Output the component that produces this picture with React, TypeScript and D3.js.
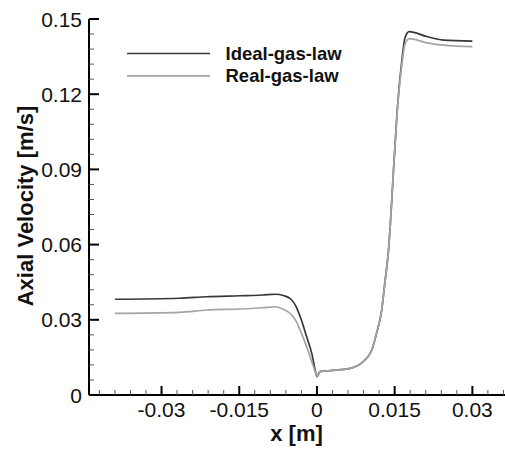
import React from "react";
import * as d3 from "d3";

// Axial position along the channel [m]
const xPositions = [
  -0.039, -0.0265, -0.0213, -0.0149, -0.0105, -0.008, -0.0065, -0.005, -0.004,
  -0.003, -0.002, -0.001, -0.0002, 0, 0.0006, 0.0025, 0.0064, 0.0089, 0.0106,
  0.0115, 0.0125, 0.0131, 0.0138, 0.0149, 0.0155, 0.0164, 0.017, 0.0178,
  0.0212, 0.0244, 0.03,
];

// Axial velocity [m/s], ideal-gas-law model
const idealGas = [
  0.0382, 0.0386, 0.0392, 0.0396, 0.0399, 0.0402, 0.0397, 0.0382, 0.0352,
  0.0299, 0.0233, 0.0166, 0.0087, 0.0073, 0.0093, 0.0097, 0.0106, 0.0133,
  0.018, 0.0246, 0.0339, 0.0446, 0.0575, 0.0937, 0.1137, 0.1336, 0.1425,
  0.145, 0.143, 0.1416, 0.1412,
];

// Axial velocity [m/s], real-gas-law model
const realGas = [
  0.0326, 0.033, 0.0339, 0.0343, 0.0348, 0.0352, 0.0342, 0.0322, 0.0294,
  0.0247, 0.0193, 0.0133, 0.0085, 0.0075, 0.0093, 0.0097, 0.0106, 0.0133,
  0.018, 0.0246, 0.0339, 0.0446, 0.0575, 0.0937, 0.113, 0.132, 0.14, 0.1422,
  0.1405, 0.1396, 0.139,
];

const xTickValues = [-0.03, -0.015, 0, 0.015, 0.03];
const xTickLabels = ["-0.03", "-0.015", "0", "0.015", "0.03"];
const yTickValues = [0, 0.03, 0.06, 0.09, 0.12, 0.15];
const yTickLabels = ["0", "0.03", "0.06", "0.09", "0.12", "0.15"];

const seriesNames = ["Ideal-gas-law", "Real-gas-law"];
const seriesColors = ["#383838", "#a4a4a4"];

const W = 505;
const H = 452;
const left = 89;
const right = 505;
const top = 19;
const bottom = 395;

export default function App() {
  const x = d3.scaleLinear().domain([-0.044, 0.0363]).range([left, right]);
  const y = d3.scaleLinear().domain([0, 0.15]).range([bottom, top]);

  const line = d3
    .line<number>()
    .x((_, i) => x(xPositions[i]))
    .y((v) => y(v))
    .curve(d3.curveMonotoneX);

  const xMinor = d3.range(-0.042, 0.0363, 0.003).filter(
    (v) => !xTickValues.some((t) => Math.abs(t - v) < 1e-6)
  );
  const yMinor = d3.range(0, 0.1501, 0.006).filter(
    (v) => !yTickValues.some((t) => Math.abs(t - v) < 1e-6)
  );

  const font = "'Liberation Sans', Arial, sans-serif";
  const series = [idealGas, realGas];

  return (
    <svg
      width={W}
      height={H}
      style={{ position: "absolute", left: 0, top: 0, background: "#fff" }}
      fontFamily={font}
    >
      {/* data curves */}
      {series.map((vals, i) => (
        <path
          key={seriesNames[i]}
          d={line(vals) ?? ""}
          fill="none"
          stroke={seriesColors[i]}
          strokeWidth={1.7}
        />
      ))}

      {/* axes */}
      <line x1={left} x2={left} y1={top} y2={bottom} stroke="#000" strokeWidth={2} />
      <line x1={left} x2={right} y1={bottom} y2={bottom} stroke="#000" strokeWidth={2} />

      {xTickValues.map((v, i) => (
        <g key={"xt" + v}>
          <line x1={x(v)} x2={x(v)} y1={bottom} y2={bottom - 9} stroke="#000" strokeWidth={2} />
          <text x={x(v)} y={416.5} fontSize={21} textAnchor="middle" fill="#111">
            {xTickLabels[i]}
          </text>
        </g>
      ))}
      {xMinor.map((v) => (
        <line key={"xm" + v} x1={x(v)} x2={x(v)} y1={bottom} y2={bottom - 5} stroke="#555" strokeWidth={1} />
      ))}

      {yTickValues.map((v, i) => (
        <g key={"yt" + v}>
          <line x1={left} x2={left + 10} y1={y(v)} y2={y(v)} stroke="#000" strokeWidth={2} />
          <text x={82} y={y(v) + 7.5} fontSize={21} textAnchor="end" fill="#111">
            {yTickLabels[i]}
          </text>
        </g>
      ))}
      {yMinor.map((v) => (
        <line key={"ym" + v} x1={left} x2={left + 5} y1={y(v)} y2={y(v)} stroke="#555" strokeWidth={1} />
      ))}

      {/* axis titles */}
      <text x={296.5} y={441} fontSize={22} fontWeight="bold" textAnchor="middle" fill="#111">
        x [m]
      </text>
      <text
        transform={`translate(33, ${(105 + 307) / 2}) rotate(-90)`}
        fontSize={22}
        fontWeight="bold"
        textAnchor="middle"
        fill="#111"
      >
        Axial Velocity [m/s]
      </text>

      {/* legend */}
      {seriesNames.map((name, i) => (
        <g key={"lg" + name}>
          <line
            x1={127}
            x2={210}
            y1={53.5 + i * 22.3}
            y2={53.5 + i * 22.3}
            stroke={seriesColors[i]}
            strokeWidth={1.7}
          />
          <text x={225.5} y={60 + i * 22} fontSize={18.5} fontWeight="bold" fill="#111">
            {name}
          </text>
        </g>
      ))}
    </svg>
  );
}
